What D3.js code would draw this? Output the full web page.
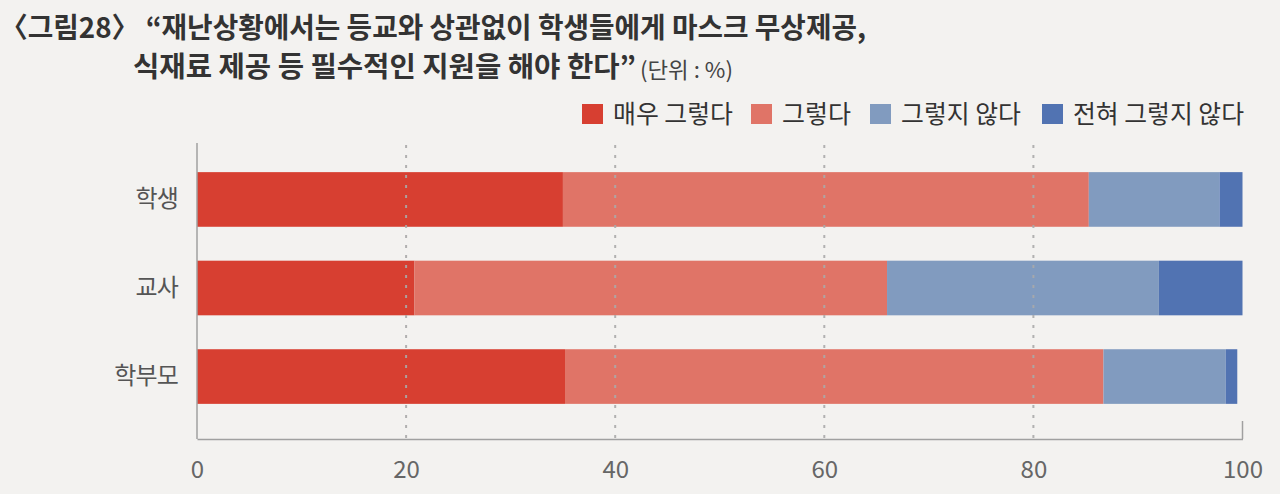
<!DOCTYPE html>
<html><head><meta charset="utf-8">
<script src="https://cdn.jsdelivr.net/npm/d3@7"></script>
<style>
html,body{margin:0;padding:0;background:#F3F2F0;}
svg{display:block;font-family:"Noto Sans CJK KR","Noto Sans",sans-serif;}
</style></head>
<body><svg id="chart" width="1280" height="494"></svg>
<script>
const categories = ["학생", "교사", "학부모"];
const seriesNames = ["매우 그렇다", "그렇다", "그렇지 않다", "전혀 그렇지 않다"];
const verySo = [35.0, 20.8, 35.2];
const so = [50.3, 45.2, 51.5];
const notSo = [12.5, 26.0, 11.7];
const notAtAll = [2.2, 8.0, 1.1];
const xTicks = [0, 20, 40, 60, 80, 100];
const colors = ["#D73F31", "#E07467", "#819BBF", "#5173B2"];
const titleLine1 = "〈그림28〉 “재난상황에서는 등교와 상관없이 학생들에게 마스크 무상제공,";
const titleLine2 = "식재료 제공 등 필수적인 지원을 해야 한다”";
const unitText = "(단위 : %)";

const series = [verySo, so, notSo, notAtAll];
const rows = categories.map((c, i) => {
  const o = {cat: c};
  seriesNames.forEach((s, j) => o[s] = series[j][i]);
  return o;
});
const stacked = d3.stack().keys(seriesNames)(rows);

const svg = d3.select("#chart");
const x = d3.scaleLinear().domain([0, 100]).range([197, 1242.5]);
const y = d3.scaleBand().domain(categories).range([150, 426]).paddingInner(0.383).paddingOuter(0.25);

// Title
svg.append("text").attr("x", 0).attr("y", 38).attr("fill", "#333").attr("font-weight", 700)
  .attr("font-size", 28).attr("textLength", 866).attr("lengthAdjust", "spacingAndGlyphs").text(titleLine1);
svg.append("text").attr("x", 133).attr("y", 77).attr("fill", "#333").attr("font-weight", 700)
  .attr("font-size", 28).attr("textLength", 503).attr("lengthAdjust", "spacingAndGlyphs").text(titleLine2);
svg.append("text").attr("x", 640).attr("y", 78).attr("fill", "#444").attr("font-size", 22)
  .attr("textLength", 93).attr("lengthAdjust", "spacingAndGlyphs").text(unitText);

// Bars
svg.append("g").selectAll("g").data(stacked).join("g").attr("fill", (d, i) => colors[i])
  .selectAll("rect").data(d => d).join("rect")
  .attr("x", d => x(d[0])).attr("width", d => x(d[1]) - x(d[0]))
  .attr("y", d => y(d.data.cat)).attr("height", y.bandwidth());

// Gridlines (drawn over bars, as in the reference)
svg.append("g").selectAll("line").data(xTicks.filter(t => t > 0 && t < 100)).join("line")
  .attr("x1", d => x(d)).attr("x2", d => x(d)).attr("y1", 145).attr("y2", 439)
  .attr("stroke", "#aaa").attr("stroke-opacity", 0.9).attr("stroke-width", 2).attr("stroke-dasharray", "3,7");

// Axes
const xAxis = svg.append("g").attr("transform", "translate(0,439)")
  .call(d3.axisBottom(x).tickValues(xTicks).tickSize(0).tickPadding(22));
xAxis.select(".domain").attr("stroke", "#a0a0a0").attr("stroke-width", 1.5);
xAxis.selectAll("text").attr("font-size", 24).attr("fill", "#666")
  .attr("font-family", "'Noto Sans CJK KR',sans-serif");
svg.append("line").attr("x1", x(100)).attr("x2", x(100)).attr("y1", 421).attr("y2", 439)
  .attr("stroke", "#a0a0a0").attr("stroke-width", 1.5);

const yAxis = svg.append("g").attr("transform", "translate(197,0)")
  .call(d3.axisLeft(y).tickSize(0).tickPadding(19));
yAxis.select(".domain").remove();
svg.append("line").attr("x1", 197).attr("x2", 197).attr("y1", 143).attr("y2", 439)
  .attr("stroke", "#a0a0a0").attr("stroke-width", 1.5);
yAxis.selectAll("text").attr("font-size", 24).attr("fill", "#555").attr("letter-spacing", -0.8)
  .attr("font-family", "'Noto Sans CJK KR',sans-serif");

// Legend
const legendX = [582, 751, 870, 1042];
const legendW = [120, 69, 120, 171];
const lg = svg.append("g").selectAll("g").data(seriesNames).join("g")
  .attr("transform", (d, i) => `translate(${legendX[i]},0)`);
lg.append("rect").attr("x", 0).attr("y", 104).attr("width", 21).attr("height", 20).attr("fill", (d, i) => colors[i]);
lg.append("text").attr("x", 31).attr("y", 123).attr("font-size", 25).attr("fill", "#333")
  .attr("textLength", (d, i) => legendW[i]).attr("lengthAdjust", "spacingAndGlyphs").text(d => d);
</script></body></html>
